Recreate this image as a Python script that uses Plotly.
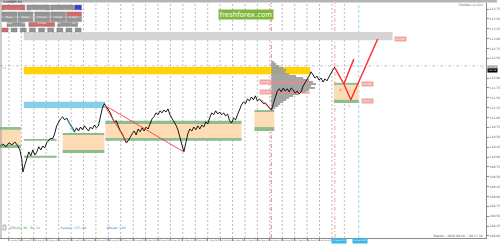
import plotly.graph_objects as go

# ---------------- data ----------------
BARS = [0, 3, 6, 9, 12, 15, 18, 20, 22, 23] + list(range(25, 338, 2))

PRICE_A = [110.28, 110.33, 110.26, 110.36, 110.31, 110.38, 110.28, 110.18, 109.93, 109.62]
PRICE_B = [109.80, 109.98, 110.13, 110.03, 110.18, 110.05, 110.13, 110.26, 110.18, 110.28,
           110.23, 110.36, 110.43, 110.48, 110.46, 110.59, 110.79, 110.89, 110.97, 111.02,
           110.94, 110.99, 110.89, 110.81, 110.74, 110.64, 110.74, 110.66, 110.76, 110.69,
           110.79, 110.71, 110.66, 110.76, 110.71, 110.81, 110.74, 110.79]
PRICE_C = [110.99, 111.24, 111.35, 111.27, 111.19, 111.12, 110.99, 110.89, 110.92, 110.76,
           110.66, 110.59, 110.48, 110.36, 110.41, 110.51, 110.59, 110.66, 110.56, 110.71,
           110.64, 110.74, 110.66, 110.76, 110.71, 110.84, 110.97, 111.02, 111.12, 111.07,
           111.17, 111.12, 111.19, 111.14, 111.22, 111.07, 110.99, 110.92, 110.81, 110.69,
           110.48, 110.28, 110.13, 110.36, 110.59, 110.71, 110.66, 110.76, 110.69, 110.79]
PRICE_D = [110.71, 110.81, 110.76, 110.89, 110.84, 110.99, 111.12, 111.07, 111.17, 111.09,
           111.14, 111.07, 111.12, 111.04, 111.09, 110.92, 110.86, 110.99, 110.94, 111.07,
           111.22, 111.32, 111.40, 111.35, 111.47, 111.42, 111.52, 111.45, 111.55, 111.42,
           111.47, 111.40, 111.35, 111.37, 111.30, 111.24, 111.19, 111.35, 111.52, 111.67,
           111.73, 111.65, 111.75, 111.67, 111.73, 111.65, 111.75, 111.70, 111.62, 111.67]
PRICE_E = [111.60, 111.65, 111.80, 111.88, 111.98, 112.05, 112.16, 112.08, 112.00, 112.05,
           111.95, 112.00, 111.90, 111.98, 111.93, 112.03, 112.13, 112.21, 112.28]
PRICE = PRICE_A + PRICE_B + PRICE_C + PRICE_D + PRICE_E

YTICKS = [113.75, 113.50, 113.25, 113.00, 112.75, 112.50, 112.00, 111.75, 111.50,
          111.25, 111.00, 110.75, 110.50, 110.25, 110.00, 109.75, 109.50, 109.25, 109.00,
          108.75, 108.50, 108.25, 108.00]
XLABELS = ["21 Aug 2018", "21 Aug 20:00", "22 Aug 16:00", "23 Aug 12:00", "24 Aug 08:00",
           "27 Aug 04:00", "28 Aug 2018", "28 Aug 20:00", "29 Aug 16:00", "30 Aug 12:00",
           "31 Aug 08:00", "3 Sep 04:00", "4 Sep 2018", "4 Sep 20:00", "5 Sep 16:00",
           "6 Sep 12:00", "7 Sep 08:00", "10 Sep 04:00", "11 Sep 2018", "11 Sep 20:00",
           "12 Sep 16:00", "13 Sep 12:00", "14 Sep 08:00", "17 Sep 04:00", "18 Sep 2018",
           "18 Sep 20:00"]

# horizontal bands: (bar_from, bar_to, upper, lower)
BAND_YELLOW = (24, 312, 112.28, 112.10)
BAND_BLUE = (24, 106, 111.40, 111.24)
BAND_GRAY = (24, 395, 113.17, 112.96)
# demand/supply zones: (bar_from, bar_to, top_hi, top_lo, bot_hi, bot_lo)
ZONES = [
    (0, 21, 110.76, 110.69, 110.31, 110.23),
    (63, 105, 110.61, 110.56, 110.18, 110.10),
    (106, 243, 110.92, 110.84, 110.48, 110.41),
    (256, 276, 111.19, 111.14, 110.76, 110.66),
    (336, 361, 111.88, 111.83, 111.45, 111.37),
]
OPEN_ZONE = (24, 57, 110.46, 110.41, 110.03, 109.98)

PROFILE_LEVELS = [112.41, 112.36, 112.31, 112.26, 112.21, 112.16, 112.10, 112.05, 112.00,
                  111.95, 111.90, 111.85, 111.80, 111.75, 111.70, 111.65, 111.60, 111.55,
                  111.50, 111.45, 111.40, 111.35, 111.30, 111.24, 111.19]
PROFILE_LEN = [3, 5, 8, 12, 15, 14, 18, 25, 32, 38, 42, 45, 40, 44, 38, 35, 28, 22, 18, 15,
               12, 9, 7, 4, 2]
PROFILE_START = 273
POC_LEVELS = [111.90, 111.65]

TREND_LINES = [((106, 111.30), (185, 110.13)),
               ((106, 111.27), (128, 110.36)),
               ((263, 111.45), (273, 111.19))]
CYAN_SEG = ((68, 110.92), (75, 110.61))
ZIG_A_X = [337, 346, 356]
ZIG_A_Y = [112.26, 111.85, 112.48]
ZIG_B_X = [346, 353, 380]
ZIG_B_Y = [111.85, 111.45, 112.99]

PRICE_LINE = 112.31
ASK, BID = 112.28, 112.18

PANEL_ROWS = [
    [("Volume Profile", "r"), ("Delta Profile", "g"), ("Absolute Profile", "g"), ("FLL", "b")],
    [("Daily", "g"), ("Weekly", "g"), ("Contract", "g"), ("Visible", "g"), ("Custom", "r")],
    [("Row", "g"), ("Area", "g"), ("Circles", "g"), ("Bars", "g"), ("Off", "g")],
    [("Lock Date", "g"), ("Small", "r"), ("Right Zone", "g")],
    [("1", "r"), ("2", "g"), ("3", "g"), ("5", "g"), ("7", "g"), ("10", "g"), ("15", "g"),
     ("20", "g"), ("30", "g")],
]

# ---------------- layout helpers ----------------
W, H = 500, 244
ML, MR, MT, MB = 0, 11, 3, 6
PLOT_H = H - MT - MB
Y_TOP, Y_BOT = 113.902, 107.949
FONT = "DejaVu Sans"


def py(pix):
    """pixel row -> paper y"""
    return (H - MB - pix) / PLOT_H


fig = go.Figure()
shapes = []
ann = []

GRID_X = [9 + 12.5 * k for k in range(28)]
for gx in GRID_X:
    shapes.append(dict(type="line", xref="x", yref="paper", x0=gx, x1=gx, y0=0, y1=1,
                       line=dict(color="#a9a9a9", width=0.8, dash="2px,2px"), layer="below"))


def rect(x0, x1, y0, y1, color):
    shapes.append(dict(type="rect", xref="x", yref="y", x0=x0, x1=x1, y0=y0, y1=y1,
                       fillcolor=color, line=dict(width=0), layer="below"))


rect(BAND_GRAY[0], BAND_GRAY[1], BAND_GRAY[3], BAND_GRAY[2], "#d4d4d4")
rect(BAND_YELLOW[0], BAND_YELLOW[1], BAND_YELLOW[3], BAND_YELLOW[2], "#ffd200")
rect(BAND_BLUE[0], BAND_BLUE[1], BAND_BLUE[3], BAND_BLUE[2], "#87ceeb")
GREEN, PEACH = "#8fbc8f", "#fddcb5"
for (a, b, th, tl, bh, bl) in ZONES:
    rect(a, b, bh, tl, PEACH)
    rect(a, b, tl, th, GREEN)
    rect(a, b, bl, bh, GREEN)
a, b, th, tl, bh, bl = OPEN_ZONE
rect(a, b, tl, th, GREEN)
rect(a, b, bl, bh, GREEN)

# special vertical lines
shapes.append(dict(type="line", xref="x", yref="paper", x0=273, x1=273, y0=0, y1=1,
                   line=dict(color="#e06a6a", width=0.8, dash="4px,2px,1px,2px"), layer="below"))
shapes.append(dict(type="line", xref="x", yref="paper", x0=337, x1=337, y0=0, y1=1,
                   line=dict(color="#ee8c8c", width=0.8, dash="4px,2px,1px,2px"), layer="below"))
shapes.append(dict(type="line", xref="x", yref="paper", x0=361, x1=361, y0=0, y1=1,
                   line=dict(color="#6fd0ee", width=0.8, dash="3px,2px"), layer="below"))
# current price dotted line
shapes.append(dict(type="line", xref="x", yref="y", x0=0, x1=487, y0=PRICE_LINE, y1=PRICE_LINE,
                   line=dict(color="#b8b8b8", width=0.8, dash="3px,2px,1px,2px"), layer="below"))

# volume profile
fig.add_trace(go.Bar(orientation="h", y=PROFILE_LEVELS, x=PROFILE_LEN, base=PROFILE_START,
                     width=0.03, marker=dict(color="#9c9c9c", line=dict(width=0)),
                     opacity=0.9, hoverinfo="skip"))
for lv in POC_LEVELS:
    for off in (0, -0.03):
        fig.add_trace(go.Scatter(x=[272, 312], y=[lv + off, lv + off], mode="lines",
                                 line=dict(color="#f08a8a", width=0.8), hoverinfo="skip"))

# price
fig.add_trace(go.Scatter(x=BARS, y=PRICE, mode="lines",
                         line=dict(color="#000000", width=0.9), hoverinfo="skip"))

# trend lines
for (p0, p1) in TREND_LINES:
    fig.add_trace(go.Scatter(x=[p0[0], p1[0]], y=[p0[1], p1[1]], mode="lines",
                             line=dict(color="#ff3b3b", width=0.9), hoverinfo="skip"))
fig.add_trace(go.Scatter(x=[CYAN_SEG[0][0], CYAN_SEG[1][0]], y=[CYAN_SEG[0][1], CYAN_SEG[1][1]],
                         mode="lines", line=dict(color="#3cc0e0", width=0.9), hoverinfo="skip"))
fig.add_trace(go.Scatter(x=ZIG_A_X, y=ZIG_A_Y, mode="lines",
                         line=dict(color="#ff2a2a", width=1.4), hoverinfo="skip"))
fig.add_trace(go.Scatter(x=ZIG_B_X, y=ZIG_B_Y, mode="lines",
                         line=dict(color="#ff2a2a", width=1.4), hoverinfo="skip"))


def label(x, y, text, bg, fg="#ffffff", size=2.6, xref="x", yref="y", xanchor="center",
          yanchor="middle", xshift=0, pad=0.6):
    ann.append(dict(x=x, y=y, xref=xref, yref=yref, text=text, showarrow=False,
                    font=dict(family=FONT, size=size, color=fg), bgcolor=bg, borderpad=pad,
                    xanchor=xanchor, yanchor=yanchor, xshift=xshift))


PINK = "#f4a3a3"
label(267, POC_LEVELS[0], "111.90", PINK)
label(267, POC_LEVELS[1], "111.65", PINK)
label(370, 111.86, "111.86", PINK)
label(370, 111.43, "111.43", PINK)
label(403, 112.98, "112.98", PINK)
label(5, 112.25, "0.0", None, fg="#f07070", size=2.4)
label(343, 111.71, "B", None, fg="#ff3030", size=3)
label(352, 111.31, "C", None, fg="#ff3030", size=3)
label(486, 112.26, "↗", None, fg="#f0a040", size=3)

# price boxes on axis
label(1, ASK, "112.28", "#9a9a9a", xref="paper", xanchor="left", size=2.3, xshift=0.5, pad=0.2)
label(1, BID, "112.18", "#000000", xref="paper", xanchor="left", size=2.3, xshift=0.5, pad=0.2)

# time boxes
label(341, 0, "19 Sep 21:00", "#39b6e6", yref="paper", yanchor="top", size=1.9, pad=0.4)
label(362, 0, "21 Sep 08:00", "#39b6e6", yref="paper", yanchor="top", size=1.9, pad=0.4)

# watermark
label(247.5, py(14.5), "freshforex.com", "#7db83a", size=7, yref="paper")

# corner texts
label(488, py(4), "FiboBars v2.4(1)", None, fg="#666666", size=3, yref="paper",
      xanchor="right")
label(487, py(235.5), "Время: / 2018.09.20 ~ 00:17:19", None, fg="#555555", size=3,
      yref="paper", xanchor="right")
label(8, py(227.5), "ATR(20): 64   Rt.: 21", None, fg="#2e9e3e", size=3, yref="paper",
      xanchor="left")
label(59, py(227.5), "Баланс: 175 / 88", None, fg="#2a7fd4", size=3, yref="paper",
      xanchor="left")
label(106, py(227.5), "Объём: 1.00", None, fg="#2a7fd4", size=3, yref="paper",
      xanchor="left")
shapes.append(dict(type="rect", xref="x", yref="paper", x0=3, x1=6, y0=py(230), y1=py(225),
                   line=dict(color="#888888", width=0.6), fillcolor="#eeeeee"))

# window title strip & border
shapes.append(dict(type="rect", xref="paper", yref="paper", x0=0, x1=W / (W - ML - MR),
                   y0=py(2.6), y1=py(0), fillcolor="#b4b4b4", line=dict(width=0)))
shapes.append(dict(type="line", xref="x", yref="paper", x0=1, x1=1, y0=0, y1=1,
                   line=dict(color="#9a9a9a", width=1)))
label(2, py(1.4), "▾ USDJPY,H1", None, fg="#000000", size=3, yref="paper", xanchor="left")

# button panel
ROW_Y = [(5, 10), (12, 16.5), (17.5, 21.5), (22.5, 26.5), (28, 32)]
ROW_X = [
    [(2, 25), (27, 50), (51, 74), (75, 82)],
    [(2, 17), (18, 33), (35, 50), (51, 66), (67, 82)],
    [(2, 17), (18, 33), (35, 50), (51, 66), (67, 82)],
    [(7, 25), (29, 55), (58, 78)],
    [(2 + 9.2 * i, 8 + 9.2 * i) for i in range(9)],
]
BTN_COL = {"r": "#d66a6a", "g": "#959595", "b": "#3b3bd8"}
for row, ys, xs in zip(PANEL_ROWS, ROW_Y, ROW_X):
    for (txt, c), (x0, x1) in zip(row, xs):
        shapes.append(dict(type="rect", xref="x", yref="paper", x0=x0, x1=x1,
                           y0=py(ys[1]), y1=py(ys[0]), fillcolor=BTN_COL[c],
                           line=dict(color="#6a6a6a", width=0.4)))
        ann.append(dict(x=(x0 + x1) / 2, y=py((ys[0] + ys[1]) / 2), xref="x", yref="paper",
                        text=txt, showarrow=False,
                        font=dict(family=FONT, size=2.4, color="#ffffff")))

fig.update_layout(
    width=W, height=H, margin=dict(l=ML, r=MR, t=MT, b=MB),
    paper_bgcolor="#ffffff", plot_bgcolor="#ffffff", showlegend=False,
    shapes=shapes, annotations=ann, barmode="overlay",
    font=dict(family=FONT, size=3, color="#444444"),
    xaxis=dict(range=[0, W - ML - MR], showgrid=False, zeroline=False,
               tickvals=GRID_X[:len(XLABELS)], ticktext=XLABELS, tickangle=0,
               ticklabelposition="outside right", ticks="outside", ticklen=2,
               tickcolor="#888888", tickfont=dict(family=FONT, size=1.9, color="#555555"),
               showline=True, linecolor="#8a8a8a", linewidth=1),
    yaxis=dict(range=[Y_BOT, Y_TOP], side="right", showgrid=False, zeroline=False,
               tickvals=YTICKS, tickformat=".2f", ticks="outside", ticklen=2,
               tickcolor="#888888", tickfont=dict(family=FONT, size=3, color="#555555"),
               showline=True, linecolor="#8a8a8a", linewidth=1),
)

fig.write_html("out.html")
